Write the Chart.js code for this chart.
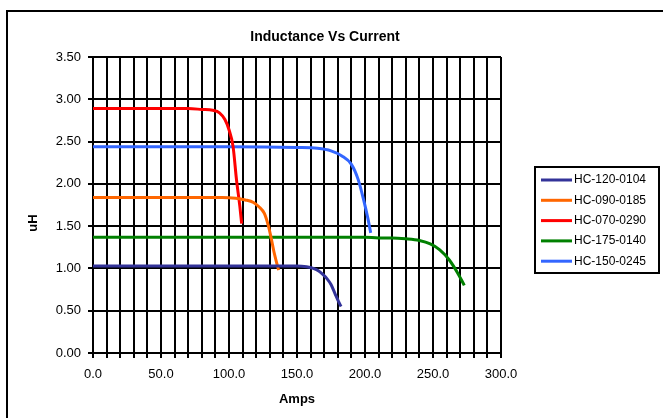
<!DOCTYPE html>
<html>
<head>
<meta charset="utf-8">
<script src="https://cdn.jsdelivr.net/npm/chart.js@4/dist/chart.umd.min.js"></script>
<style>
  body { margin: 0; background: #fff; }
</style>
</head>
<body>
<canvas id="chart" width="663" height="418"></canvas>
<script>
const FONT = "'Liberation Sans', Arial, sans-serif";

// values (Amps, uH)
const seriesNames = ["HC-120-0104", "HC-090-0185", "HC-070-0290", "HC-175-0140", "HC-150-0245"];
const seriesColors = ["#333399", "#FF6600", "#FF0000", "#008000", "#3366FF"];

const hc120Amps = [0, 25, 50, 75, 100, 125, 150, 157, 162, 166, 169, 172, 175, 178, 180.5, 182.4];
const hc120uH = [1.03, 1.03, 1.03, 1.03, 1.03, 1.03, 1.03, 1.02, 1.0, 0.97, 0.93, 0.88, 0.81, 0.7, 0.61, 0.55];

const hc090Amps = [0, 25, 50, 75, 95, 105, 112, 118, 122, 126, 129, 131, 133, 135, 136.5];
const hc090uH = [1.84, 1.84, 1.84, 1.84, 1.84, 1.83, 1.81, 1.78, 1.73, 1.65, 1.5, 1.36, 1.2, 1.07, 0.98];

const hc070Amps = [0, 25, 50, 70, 80, 88, 93, 97, 100, 103, 105.5, 108, 109.3];
const hc070uH = [2.89, 2.89, 2.89, 2.89, 2.88, 2.87, 2.84, 2.76, 2.64, 2.44, 2.05, 1.73, 1.53];

const hc175Amps = [0, 50, 100, 150, 200, 210, 220, 230, 240, 248, 255, 262, 268, 273];
const hc175uH = [1.37, 1.37, 1.37, 1.37, 1.37, 1.36, 1.36, 1.35, 1.33, 1.29, 1.22, 1.1, 0.95, 0.8];

const hc150Amps = [0, 50, 100, 150, 165, 175, 183, 190, 195, 199, 202, 204.2];
const hc150uH = [2.44, 2.44, 2.44, 2.43, 2.42, 2.39, 2.33, 2.23, 2.05, 1.81, 1.6, 1.42];

const allAmps = [hc120Amps, hc090Amps, hc070Amps, hc175Amps, hc150Amps];
const alluH = [hc120uH, hc090uH, hc070uH, hc175uH, hc150uH];

const datasets = seriesNames.map(function (name, i) {
  return {
    label: name,
    data: allAmps[i].map(function (a, j) { return { x: a, y: alluH[i][j] }; }),
    borderColor: seriesColors[i],
    backgroundColor: seriesColors[i],
    borderWidth: 3,
    pointRadius: 0,
    cubicInterpolationMode: "monotone",
    fill: false,
  };
});

// border, title, y title and the boxed legend, Excel style
const decor = {
  id: "decor",
  beforeDraw(chart) {
    const ctx = chart.ctx;
    ctx.save();
    ctx.fillStyle = "#fff";
    ctx.fillRect(0, 0, chart.width, chart.height);
    ctx.restore();
  },
  afterDraw(chart) {
    const ctx = chart.ctx;
    ctx.save();
    ctx.strokeStyle = "#000";
    ctx.lineWidth = 2;
    ctx.strokeRect(7, 11, 700, 450);

    ctx.fillStyle = "#000";
    ctx.textAlign = "center";
    ctx.textBaseline = "middle";
    ctx.font = "bold 14px " + FONT;
    ctx.fillText("Inductance Vs Current", 325, 37);

    ctx.translate(33, 223);
    ctx.rotate(-Math.PI / 2);
    ctx.font = "bold 13px " + FONT;
    ctx.fillText("uH", 0, 0);
    ctx.restore();

    // legend
    ctx.save();
    ctx.fillStyle = "#fff";
    ctx.fillRect(535, 167, 124, 106);
    ctx.strokeStyle = "#000";
    ctx.lineWidth = 2;
    ctx.strokeRect(535, 167, 124, 106);
    ctx.font = "12px " + FONT;
    ctx.textAlign = "left";
    ctx.textBaseline = "middle";
    chart.data.datasets.forEach(function (ds, i) {
      const y = 180 + i * 20.3;
      ctx.strokeStyle = ds.borderColor;
      ctx.lineWidth = 3;
      ctx.beginPath();
      ctx.moveTo(541, y);
      ctx.lineTo(572, y);
      ctx.stroke();
      ctx.fillStyle = "#000";
      ctx.fillText(ds.label, 574, y);
    });
    ctx.restore();
  }
};

const chart = new Chart(document.getElementById("chart").getContext("2d"), {
  type: "line",
  data: { datasets: datasets },
  plugins: [decor],
  options: {
    responsive: false,
    animation: false,
    layout: { padding: { top: 57, right: 162, left: 0, bottom: 0 } },
    plugins: {
      legend: { display: false },
      title: { display: false },
      tooltip: { enabled: false },
    },
    scales: {
      x: {
        type: "linear",
        min: 0,
        max: 300,
        afterFit: function (scale) { scale.height = 65; },
        ticks: {
          stepSize: 10,
          autoSkip: false,
          maxRotation: 0,
          padding: 9,
          color: "#000",
          font: { family: FONT, size: 13 },
          callback: function (v) { return v % 50 === 0 ? v.toFixed(1) : ""; },
        },
        grid: { color: "#000", lineWidth: 2, tickLength: 5 },
        border: { color: "#000", width: 2 },
        title: {
          display: true,
          text: "Amps",
          color: "#000",
          font: { family: FONT, size: 13, weight: "bold" },
          padding: { top: 0, bottom: 11 },
        },
      },
      y: {
        min: 0,
        max: 3.5,
        afterFit: function (scale) { scale.width = 93; },
        ticks: {
          stepSize: 0.5,
          padding: 7,
          color: "#000",
          font: { family: FONT, size: 13 },
          callback: function (v) { return v.toFixed(2); },
        },
        grid: { color: "#000", lineWidth: 2, tickLength: 5 },
        border: { color: "#000", width: 2 },
      },
    },
  }
});
</script>
</body>
</html>
